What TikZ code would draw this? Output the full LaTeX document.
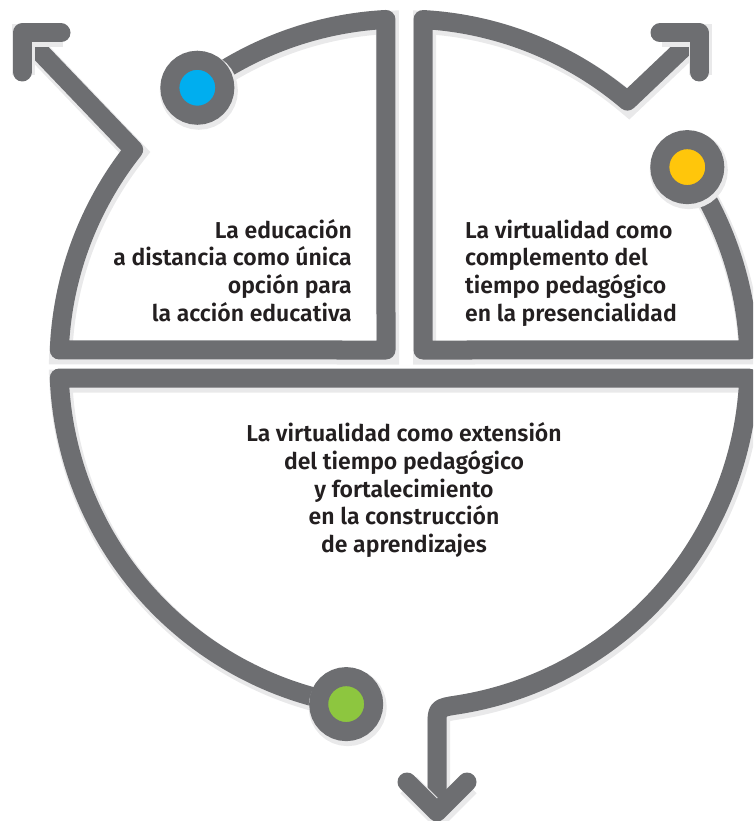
\documentclass[tikz,border=0pt]{standalone}
\usepackage{fontspec}
\setmainfont{Fira Sans}[BoldFont={Fira Sans SemiBold}]
\usetikzlibrary{calc}
\definecolor{pipegray}{HTML}{6D6E71}
\definecolor{shadowgray}{HTML}{E9E9EA}
\definecolor{dotblue}{HTML}{00AEEF}
\definecolor{dotyellow}{HTML}{FFC60B}
\definecolor{dotgreen}{HTML}{8DC63F}
\definecolor{inkdark}{HTML}{231F20}
\tikzset{
  pipe/.style={draw=pipegray, line width=19pt, line join=round, line cap=round,
    preaction={draw=shadowgray, line width=23pt, transform canvas={shift={(1.5pt,-3pt)}}}},
  ringdot/.style={circle, draw=pipegray, line width=19pt, minimum size=55pt, inner sep=0pt,
    preaction={draw=shadowgray, line width=23pt, transform canvas={shift={(1.5pt,-3pt)}}}},
  label/.style={inner sep=0pt, text=inkdark, font=\fontsize{23}{27}\selectfont\bfseries},
}
\begin{document}
\begin{tikzpicture}[x=1pt,y=-1pt]
\useasboundingbox (0,0) rectangle (753,821);
\clip (0,0) rectangle (753,821);
\coordinate (C) at (404,364);
% ---------- top-left piece ----------
\coordinate (tlCorner) at (386,350);
\coordinate (tlTop) at ($(C)+(267:345)$);
\coordinate (tlLeft) at ($(C)+(182.33:345)$);
\coordinate (tlKink) at ($(C)+(218.4:345)$);
\coordinate (tlDot) at ($(C)+(233.2:345)$);
\coordinate (tlTip) at (22,33);
\coordinate (tlWingA) at (61,33);
\coordinate (tlWingB) at (22,72);
\draw[pipe] (tlDot) arc[start angle=233.2, end angle=267, radius=345]
  -- (tlCorner) -- (tlLeft) arc[start angle=182.33, end angle=218.4, radius=345] -- (tlTip);
\draw[pipe] (tlWingA) -- (tlTip) -- (tlWingB);
% ---------- top-right piece ----------
\coordinate (trCorner) at (423,350);
\coordinate (trTop) at ($(C)+(273.16:345)$);
\coordinate (trRight) at ($(C)+(357.67:345)$);
\coordinate (trKink) at ($(C)+(310.35:345)$);
\coordinate (trDot) at ($(C)+(325.2:345)$);
\coordinate (trTip) at (699,33);
\coordinate (trWingA) at (660,33);
\coordinate (trWingB) at (699,72);
\draw[pipe] (trDot) arc[start angle=325.2, end angle=357.67, radius=345]
  -- (trCorner) -- (trTop) arc[start angle=273.16, end angle=310.35, radius=345] -- (trTip);
\draw[pipe] (trWingA) -- (trTip) -- (trWingB);
% ---------- bottom piece ----------
\coordinate (bDot) at ($(C)+(99.65:345)$);
\coordinate (bRight) at ($(C)+(2.33:345)$);
\coordinate (bBend) at (437,708);
\coordinate (bDown) at (437,726);
\coordinate (bTip) at (437,812);
\coordinate (bWingA) at (407,782);
\coordinate (bWingB) at (467,782);
\draw[pipe] (bDot) arc[start angle=99.65, end angle=177.67, radius=345]
  -- (bRight) arc[start angle=2.33, end angle=81, radius=345]
  .. controls (bBend) .. (bDown) -- (bTip);
\draw[pipe] (bWingA) -- (bTip) -- (bWingB);
% ---------- dots ----------
\node[ringdot, fill=dotblue] (blueDot) at (tlDot) {};
\node[ringdot, fill=dotyellow] (yellowDot) at (trDot) {};
\node[ringdot, fill=dotgreen] (greenDot) at (bDot) {};
% ---------- texts ----------
\node[label, anchor=base east] (tl1) at (352,238) {La educación};
\node[label, anchor=base east] (tl2) at (352,265.7) {a distancia como única};
\node[label, anchor=base east] (tl3) at (352,293.4) {opción para};
\node[label, anchor=base east] (tl4) at (352,321.1) {la acción educativa};
\node[label, anchor=base west] (tr1) at (465,238) {La virtualidad como};
\node[label, anchor=base west] (tr2) at (465,265.7) {complemento del};
\node[label, anchor=base west] (tr3) at (465,293.4) {tiempo pedagógico};
\node[label, anchor=base west] (tr4) at (465,321.1) {en la presencialidad};
\node[label, anchor=base] (b1) at (404,441.7) {La virtualidad como extensión};
\node[label, anchor=base] (b2) at (404,469.4) {del tiempo pedagógico};
\node[label, anchor=base] (b3) at (404,497.1) {y fortalecimiento};
\node[label, anchor=base] (b4) at (404,524.8) {en la construcción};
\node[label, anchor=base] (b5) at (404,552.5) {de aprendizajes};
\end{tikzpicture}
\end{document}
